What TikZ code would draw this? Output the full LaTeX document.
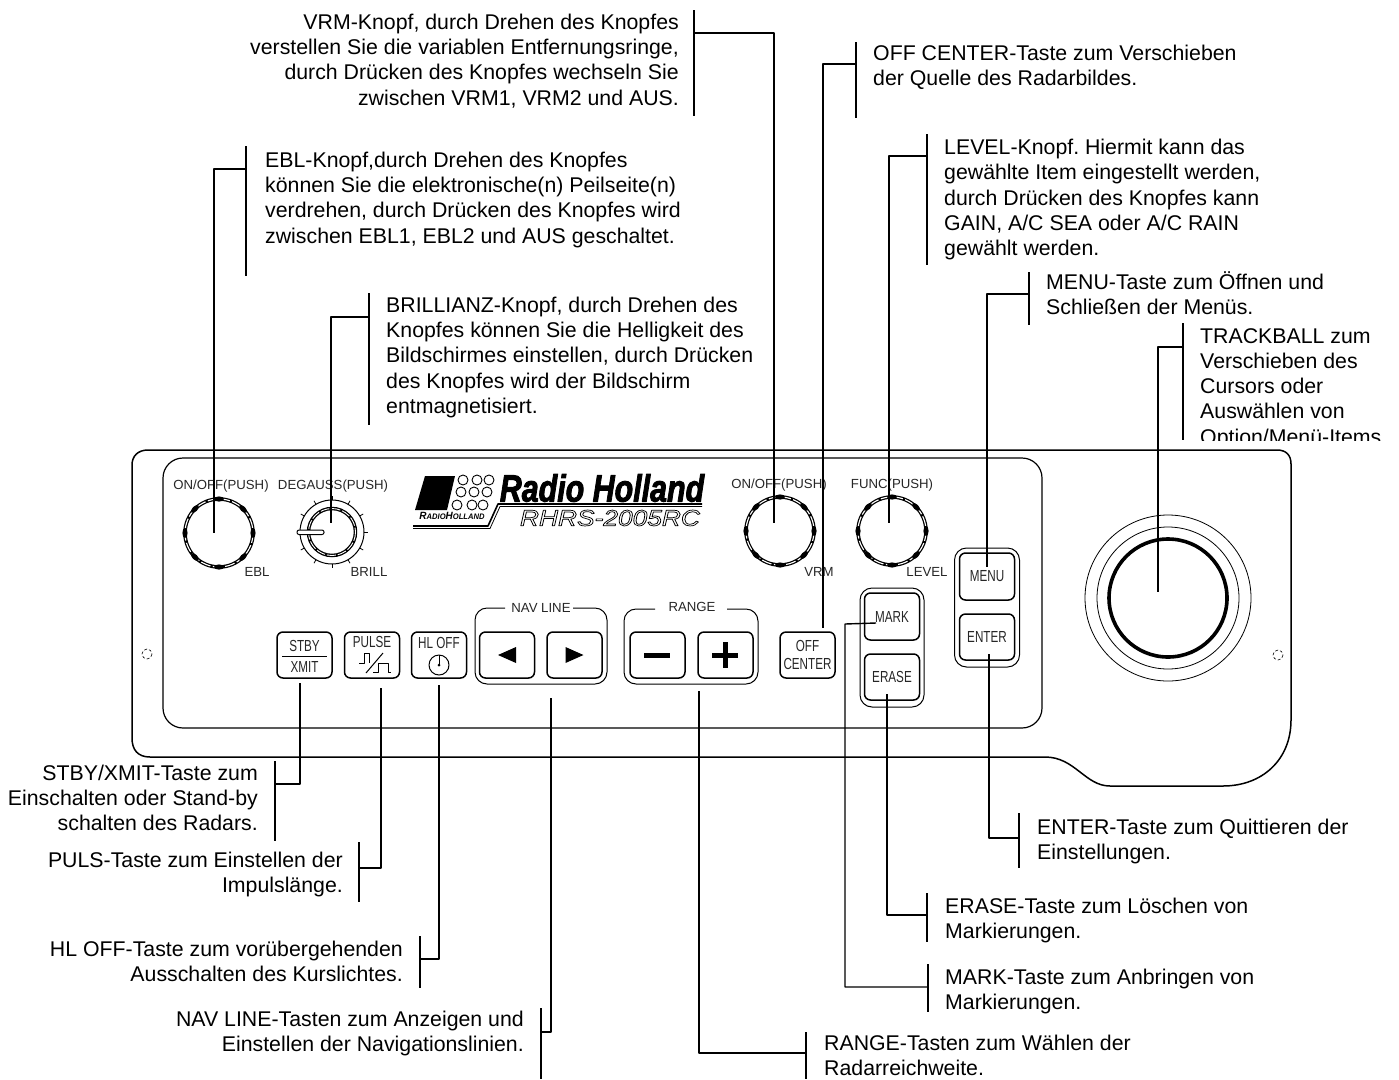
\documentclass[tikz,border=0pt]{standalone}
\usepackage{fontspec}
\setmainfont{Liberation Sans}
\usetikzlibrary{positioning}
\tikzset{
	txt/.style={inner sep=0pt, font=\fontsize{21.3}{25.3}\selectfont\frenchspacing},
	txtl/.style={txt, anchor=north west, align=left},
	txtr/.style={txt, anchor=north east, align=right},
	pnl/.style={inner sep=0pt, font=\fontsize{13.2}{15}\selectfont, text=black!85},
	bsm/.style={inner sep=0pt, font=\fontsize{16}{18}\selectfont, text=black!85},
	btn/.style={draw, line width=1.5pt, rounded corners=6pt, minimum width=55pt, minimum height=46pt, inner sep=0pt, align=center, font=\fontsize{16}{18}\selectfont, text=black!85},
	lead/.style={line width=1.4pt}
}
\newcommand{\nar}[1]{\scalebox{0.73}[1]{#1}}
\begin{document}
\begin{tikzpicture}[x=1pt, y=-1pt, line join=round]
	\useasboundingbox (0,0) rectangle (1399,1079);

	% Outer plate and inner panel
	\draw[line width=1.5pt] (132,738) -- (132,465) .. controls (132,456) and (138,450) .. (148,450) -- (1277,450) .. controls (1286,450) and (1291,455) .. (1291,464) -- (1291,720) .. controls (1291,760) and (1262,786) .. (1223,786) -- (1110,786) .. controls (1085,786) and (1075,757) .. (1045,757) -- (150,757) .. controls (138,757) and (132,750) .. (132,738) -- cycle;
	\draw[line width=1.2pt, rounded corners=20pt] (163,458) rectangle (1042,728);
	\draw[densely dashed, line width=0.6pt] (147,654) circle (5);
	\draw[densely dashed, line width=0.6pt] (1278,655) circle (5);

	% Knobs
	\foreach \nm/\kx/\ky in {EBLk/219/533, VRMk/780/531, FUNk/892/531} {
		\node[circle, minimum size=68pt, inner sep=0pt] (\nm) at (\kx,\ky) {};
		\draw[line width=3.6pt] (\kx,\ky) circle (34);
		\draw[white, line width=1.1pt, dash pattern=on 10pt off 2.4pt] (\kx,\ky) circle (34);
		\foreach \ang in {0,45,...,315}
			\fill (\nm.center) ++(\ang:34) circle[x radius=2.6, y radius=5, rotate=-\ang];
	}

	% Brilliance knob
	\node[circle, draw, line width=1pt, minimum size=64pt, inner sep=0pt] (BRIk) at (332,532) {};
	\foreach \ang in {0,30,60,90,120,150,210,240,270,300,330}
		\draw[line width=0.8pt] (BRIk.center) ++(\ang:32) -- ++(\ang:4);
	\draw[line width=3.5pt] (BRIk.center) circle (23.5);
	\draw[white, line width=0.9pt, dash pattern=on 9pt off 2pt] (BRIk.center) circle (23.5);
	\draw[line width=1pt, fill=white, rounded corners=2pt] (297,530) rectangle (324,534.5);

	% Captions on the panel
	\node[pnl] (cEBLa) at (221,486) {ON/OFF(PUSH)};
	\node[pnl] (cBRIa) at (333,486) {DEGAUSS(PUSH)};
	\node[pnl] (cVRMa) at (779,485) {ON/OFF(PUSH)};
	\node[pnl] (cFUNa) at (892,485) {FUNC(PUSH)};
	\node[pnl] (cEBLb) at (257,572) {EBL};
	\node[pnl] (cBRIb) at (369,572) {BRILL};
	\node[pnl] (cVRMb) at (819,572) {VRM};
	\node[pnl] (cFUNb) at (927,572) {LEVEL};

	% Logo
	\fill (425,476) -- (455,476) -- (447,510) -- (415,510) -- cycle;
	\foreach \cx/\cy in {463/480,477/480,489/480,461/492,474/492,487/492,457/505,472/505,483/505}
		\draw[line width=0.9pt] (\cx,\cy) circle (5);
	\node[inner sep=0pt, font=\fontsize{10.5}{12}\bfseries\itshape] (LOGa) at (452,516) {\scalebox{0.95}[1]{R\fontsize{8}{12}\selectfont ADIO\fontsize{10.5}{12}\selectfont H\fontsize{8}{12}\selectfont OLLAND}};
	\draw[line width=1.6pt] (413,526) -- (488,526) -- (498,504) -- (702,504);
	\draw[line width=0.8pt] (413,528.5) -- (490,528.5) -- (500,506.5) -- (702,506.5);
	\node[inner sep=0pt, font=\fontsize{38}{40}\bfseries\itshape] (LOGb) at (602,488) {\special{pdf:code 2 Tr 1 w}\scalebox{0.8}[1]{Radio Holland}\special{pdf:code 0 Tr}};
	\node[inner sep=0pt, font=\fontsize{22.5}{24}\itshape] (LOGc) at (610,518) {\special{pdf:code 1 Tr 0.7 w}\scalebox{1.17}[1]{RHRS-2005RC}\special{pdf:code 0 Tr}};

	% Buttons
	\node[btn] (STBY) at (304.5,655) {};
	\node[bsm] (STBYa) at (304.5,646) {\nar{STBY}};
	\node[bsm] (STBYb) at (304.5,667) {\nar{XMIT}};
	\draw[line width=1pt] (282,656) -- (327,656);
	\node[btn] (PULS) at (372,655) {};
	\node[bsm] (PULSa) at (372,642) {\nar{PULSE}};
	\draw[line width=1pt] (359,663) -- (364,663) -- (364,653) -- (369,653) -- (369,663);
	\draw[line width=1pt] (366,673) -- (383,653);
	\draw[line width=1pt] (373,672) -- (378,672) -- (378,663) -- (388,663) -- (388,672) -- (391,672);
	\node[btn] (HLOF) at (439,655) {};
	\node[bsm] (HLOFa) at (439,643) {\nar{HL OFF}};
	\draw[line width=1pt] (439,665) circle (10);
	\draw[line width=0.8pt] (439,655) -- (439,665);
	\fill (439,665) circle (1.5);
	\node[btn] (NAVl) at (507,655) {};
	\fill (NAVl.center) ++(-9,0) -- ++(18,-8) -- ++(0,16) -- cycle;
	\node[btn] (NAVr) at (574.5,655) {};
	\fill (NAVr.center) ++(9,0) -- ++(-18,-8) -- ++(0,16) -- cycle;
	\node[btn] (RNGm) at (657.5,655) {};
	\fill (644,652.5) rectangle (670,657.5);
	\node[btn] (RNGp) at (725.5,655) {};
	\fill (712,652.5) rectangle (738,657.5);
	\fill (723,642) rectangle (728,668);
	\node[btn] (OFFC) at (807.5,655) {\nar{OFF}\\\nar{CENTER}};
	\node[btn, minimum height=47pt] (MARK) at (892,616.5) {\nar{MARK}};
	\node[btn, minimum height=46pt] (ERAS) at (892,677) {\nar{ERASE}};
	\node[btn, minimum height=47pt] (MENU) at (987,576.5) {\nar{MENU}};
	\node[btn, minimum height=46pt] (ENTR) at (987,637) {\nar{ENTER}};

	% Frames round the button groups
	\draw[line width=1pt, rounded corners=12pt] (505,608) -- (475,608) -- (475,684) -- (607,684) -- (607,608) -- (573,608);
	\node[pnl] (cNAV) at (541,608) {NAV LINE};
	\draw[line width=1pt, rounded corners=12pt] (655,609) -- (624,609) -- (624,684) -- (758,684) -- (758,609) -- (727,609);
	\node[pnl] (cRNG) at (692,607) {RANGE};
	\draw[line width=1pt, rounded corners=12pt] (860,588) rectangle (924,707);
	\draw[line width=1pt, rounded corners=12pt] (954.5,548) rectangle (1019.5,667);

	% Trackball
	\node[circle, draw, line width=0.8pt, minimum size=166pt, inner sep=0pt] (TRKo) at (1168,598) {};
	\node[circle, draw, line width=0.8pt, minimum size=142pt, inner sep=0pt] (TRKm) at (1168,598) {};
	\node[circle, draw, line width=3.6pt, minimum size=118pt, inner sep=0pt] (TRKi) at (1168,598) {};

	% Leader lines: bar beside the text, then an elbow to the part
	\foreach \nm/\xb/\ya/\yb/\yh/\xe/\ye in {
		VRM/694/10/116/33/774/523, OFF/856/42/118/64/823/628,
		LEV/927/134/265/156/889/523, MEN/1029/272/325/294/987/567,
		TRK/1183/323/440/347/1158/592, EBL/246/146/276/169/214/533,
		BRI/369/293/425/317/331/523, STB/275/761/841/784/300/683,
		PUL/359/842/902/868/381/688, HLO/420/936/988/959/439/685,
		NAV/541/1008/1079/1032/551/698, RNG/806/1032/1079/1053/699/691,
		ERA/927/893/942/915/887/694, ENT/1019/813/868/838/989/654} {
		\coordinate (\nm t) at (\xb,\ya);
		\coordinate (\nm b) at (\xb,\yb);
		\coordinate (\nm m) at (\xb,\yh);
		\coordinate (\nm e) at (\xe,\ye);
		\draw[lead] (\nm t) -- (\nm b);
		\draw[lead] (\nm m) -| (\nm e);
	}
	\coordinate (MRKt) at (928,964);
	\coordinate (MRKb) at (928,1012);
	\coordinate (MRKm) at (928,987);
	\coordinate (MRKc) at (845,987);
	\coordinate (MRKd) at (845,624);
	\coordinate (MRKe) at (876,623);
	\draw[lead] (MRKt) -- (MRKb);
	\draw[lead] (MRKm) -- (MRKc) -- (MRKd) -- (MRKe);

	% Texts
	\node[txtr] (tVRM) at (679,13.5) {VRM-Knopf, durch Drehen des Knopfes\\verstellen Sie die variablen Entfernungsringe,\\durch Drücken des Knopfes wechseln Sie\\zwischen VRM1, VRM2 und AUS.};
	\node[txtl] (tOFF) at (873,45) {OFF CENTER-Taste zum Verschieben\\der Quelle des Radarbildes.};
	\node[txtl] (tLEV) at (944,139) {LEVEL-Knopf. Hiermit kann das\\gewählte Item eingestellt werden,\\durch Drücken des Knopfes kann\\GAIN, A/C SEA oder A/C RAIN\\gewählt werden.};
	\node[txtl] (tMEN) at (1046,271) {MENU-Taste zum Öffnen und\\Schließen der Menüs.};
	\begin{scope}
		\clip (1190,320) rectangle (1399,440);
		\node[txtl] (tTRK) at (1200,328) {TRACKBALL zum\\Verschieben des\\Cursors oder\\Auswählen von\\Option/Menü-Items};
	\end{scope}
	\node[txtl] (tEBL) at (265,151.5) {EBL-Knopf,durch Drehen des Knopfes\\können Sie die elektronische(n) Peilseite(n)\\verdrehen, durch Drücken des Knopfes wird\\zwischen EBL1, EBL2 und AUS geschaltet.};
	\node[txtl] (tBRI) at (386,296.5) {BRILLIANZ-Knopf, durch Drehen des\\Knopfes können Sie die Helligkeit des\\Bildschirmes einstellen, durch Drücken\\des Knopfes wird der Bildschirm\\entmagnetisiert.};
	\node[txtr] (tSTB) at (258,764.5) {STBY/XMIT-Taste zum\\Einschalten oder Stand-by\\schalten des Radars.};
	\node[txtr] (tPUL) at (343,851.5) {PULS-Taste zum Einstellen der\\Impulslänge.};
	\node[txtr] (tHLO) at (403,940.5) {HL OFF-Taste zum vorübergehenden\\Ausschalten des Kurslichtes.};
	\node[txtr] (tNAV) at (524,1010.5) {NAV LINE-Tasten zum Anzeigen und\\Einstellen der Navigationslinien.};
	\node[txtl] (tRNG) at (824,1035) {RANGE-Tasten zum Wählen der\\Radarreichweite.};
	\node[txtl] (tMRK) at (945,968.5) {MARK-Taste zum Anbringen von\\Markierungen.};
	\node[txtl] (tERA) at (945,897.5) {ERASE-Taste zum Löschen von\\Markierungen.};
	\node[txtl] (tENT) at (1037,818.5) {ENTER-Taste zum Quittieren der\\Einstellungen.};
\end{tikzpicture}
\end{document}
